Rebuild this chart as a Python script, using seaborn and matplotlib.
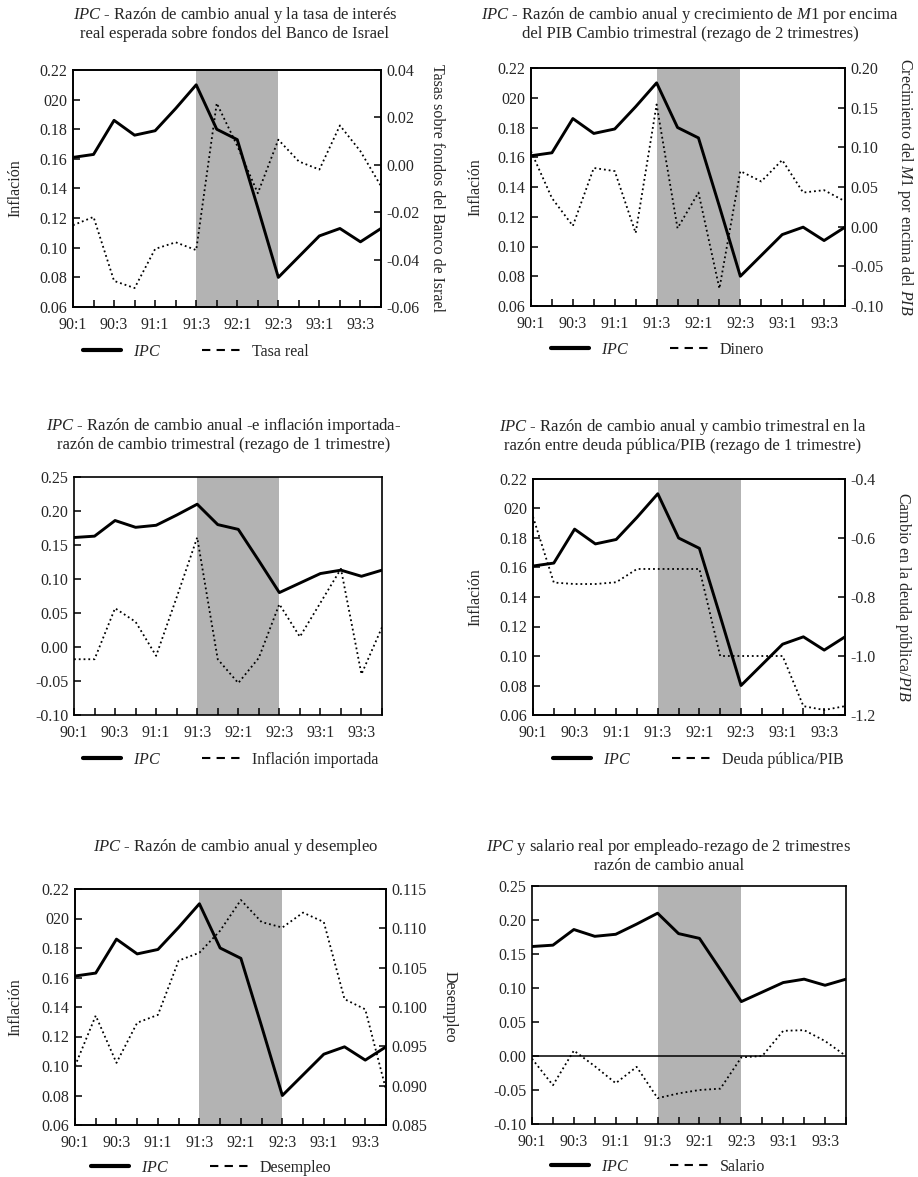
import numpy as np
import pandas as pd
import matplotlib
matplotlib.use("Agg")
import matplotlib.pyplot as plt
import seaborn as sns
from matplotlib.lines import Line2D

# ---------------- data ----------------
quarters = ['90:1', '90:2', '90:3', '90:4', '91:1', '91:2', '91:3', '91:4',
            '92:1', '92:2', '92:3', '92:4', '93:1', '93:2', '93:3', '93:4']
xtick_labels = ['90:1', '90:3', '91:1', '91:3', '92:1', '92:3', '93:1', '93:3']
shade_start, shade_end = '91:3', '92:3'

ipc = [0.161, 0.163, 0.186, 0.176, 0.179, 0.194, 0.210, 0.180,
       0.173, 0.127, 0.080, 0.094, 0.108, 0.113, 0.104, 0.113]
tasa_real = [-0.0255, -0.022, -0.049, -0.052, -0.0355, -0.0327, -0.036, 0.026,
             0.008, -0.012, 0.0106, 0.0014, -0.002, 0.0166, 0.0057, -0.009]
dinero = [0.095, 0.036, 0.001, 0.074, 0.070, -0.008, 0.154, -0.002,
          0.043, -0.078, 0.070, 0.057, 0.084, 0.043, 0.046, 0.032]
infl_importada = [-0.018, -0.018, 0.057, 0.037, -0.013, 0.073, 0.161, -0.018,
                  -0.053, -0.016, 0.063, 0.015, 0.065, 0.115, -0.040, 0.029]
deuda_pib = [-0.528, -0.751, -0.756, -0.756, -0.750, -0.705, -0.705, -0.705,
             -0.705, -1.000, -1.000, -1.000, -1.000, -1.170, -1.183, -1.170]
desempleo = [0.0925, 0.0989, 0.0929, 0.0980, 0.0990, 0.1059, 0.1069, 0.1097,
             0.1136, 0.1108, 0.1101, 0.1120, 0.1108, 0.1010, 0.0997, 0.0895]
salario = [-0.004, -0.043, 0.008, -0.015, -0.040, -0.016, -0.062, -0.055,
           -0.050, -0.048, -0.002, 0.000, 0.037, 0.038, 0.022, 0.000]

infl_ticks = [0.06, 0.08, 0.10, 0.12, 0.14, 0.16, 0.18, 0.20, 0.22]
infl_labels = ['0.06', '0.08', '0.10', '0.12', '0.14', '0.16', '0.18', '020', '0.22']
wide_ticks = [-0.10, -0.05, 0.00, 0.05, 0.10, 0.15, 0.20, 0.25]
wide_labels = ['-0.10', '-0.05', '0.00', '0.05', '0.10', '0.15', '0.20', '0.25']
tasa_ticks = [-0.06, -0.04, -0.02, 0.00, 0.02, 0.04]
tasa_labels = ['-0.06', '-0.04', '-0.02', '0.00', '0.02', '0.04']
dinero_ticks = [-0.10, -0.05, 0.00, 0.05, 0.10, 0.15, 0.20]
dinero_labels = ['-0.10', '-0.05', '0.00', '0.05', '0.10', '0.15', '0.20']
deuda_ticks = [-1.2, -1.0, -0.8, -0.6, -0.4]
deuda_labels = ['-1.2', '-1.0', '-0.8', '-0.6', '-0.4']
desem_ticks = [0.085, 0.090, 0.095, 0.100, 0.105, 0.110, 0.115]
desem_labels = ['0.085', '0.090', '0.095', '0.100', '0.105', '0.110', '0.115']

titles = [
    r"$\mathit{IPC}$ - Razón de cambio anual y la tasa de interés" + "\n" +
    "real esperada sobre fondos del Banco de Israel",
    r"$\mathit{IPC}$ - Razón de cambio anual y crecimiento de $\mathit{M1}$ por encima" + "\n" +
    "del PIB Cambio trimestral (rezago de 2 trimestres)",
    r"$\mathit{IPC}$ - Razón de cambio anual -e inflación importada-" + "\n" +
    "razón de cambio trimestral (rezago de 1 trimestre)",
    r"$\mathit{IPC}$ - Razón de cambio anual y cambio trimestral en la" + "\n" +
    "razón entre deuda pública/PIB (rezago de 1 trimestre)",
    r"$\mathit{IPC}$ - Razón de cambio anual y desempleo",
    r"$\mathit{IPC}$ y salario real por empleado-rezago de 2 trimestres" + "\n" +
    "razón de cambio anual",
]
legend_names = ['Tasa real', 'Dinero', 'Inflación importada',
                'Deuda pública/PIB', 'Desempleo', 'Salario']
right_labels = ['Tasas sobre fondos del Banco de Israel',
                r'Crecimiento del $\mathit{M1}$ por encima del $\mathit{PIB}$',
                None,
                r'Cambio en la deuda pública/$\mathit{PIB}$',
                'Desempleo',
                None]
secondary = [tasa_real, dinero, infl_importada, deuda_pib, desempleo, salario]
sec_ticks = [(tasa_ticks, tasa_labels), (dinero_ticks, dinero_labels), None,
             (deuda_ticks, deuda_labels), (desem_ticks, desem_labels), None]
left_ticks = [(infl_ticks, infl_labels), (infl_ticks, infl_labels),
              (wide_ticks, wide_labels), (infl_ticks, infl_labels),
              (infl_ticks, infl_labels), (wide_ticks, wide_labels)]
left_labels = ['Inflación', 'Inflación', None, 'Inflación', 'Inflación', None]

# ---------------- layout (pixels) ----------------
W, H = 918, 1177
boxes = [(73, 70, 381, 307), (531, 68, 845, 306),
         (74, 477, 382, 715), (533, 479, 845, 715),
         (75, 889, 386, 1125), (532, 886, 846, 1124)]
title_pos = [(235, 5), (690, 5), (224, 416), (683, 417), (236, 837), (669, 837)]
legend_x = [83, 551, 83, 553, 91, 551]
legend_y = [352, 350, 760, 760, 1168, 1167]
left_label_x = [15, 475, None, 475, 15, None]
right_label_x = [437, 905, None, 903, 450, None]

sns.set_theme(style="white")
plt.rcParams['font.family'] = ['Liberation Serif', 'DejaVu Serif']
plt.rcParams['mathtext.fontset'] = 'custom'
plt.rcParams['mathtext.rm'] = 'Liberation Serif'
plt.rcParams['mathtext.it'] = 'Liberation Serif:italic'
plt.rcParams['mathtext.bf'] = 'Liberation Serif:bold'
plt.rcParams['axes.unicode_minus'] = False

fig = plt.figure(figsize=(W / 100, H / 100), dpi=100)
fig.patch.set_facecolor('white')

t = np.arange(len(quarters))
i0, i1 = quarters.index(shade_start), quarters.index(shade_end)
TICK_FS = 11.5

for k in range(6):
    l, tp, r, b = boxes[k]
    ax = fig.add_axes([l / W, 1 - b / H, (r - l) / W, (b - tp) / H])
    ax.set_facecolor('white')
    df = pd.DataFrame({'t': t, 'ipc': ipc, 'sec': secondary[k]})

    ax.axvspan(i0, i1, color='#b3b3b3', lw=0, zorder=0)
    lt, ll = left_ticks[k]
    sns.lineplot(data=df, x='t', y='ipc', ax=ax, color='black', lw=2.1, zorder=5)
    ax.set_ylim(lt[0], lt[-1])
    ax.set_yticks(lt)
    ax.set_yticklabels(ll, fontsize=TICK_FS)
    ax.set_xlim(0, len(quarters) - 1)
    ax.set_xticks(t[::2])
    ax.set_xticklabels(xtick_labels, fontsize=TICK_FS)
    ax.set_xticks(t[1::2], minor=True)
    ax.tick_params(axis='both', which='both', direction='in', length=5, width=1.1,
                   color='black', pad=4)
    ax.tick_params(axis='x', which='both', top=False, bottom=True, pad=7)
    ax.tick_params(axis='y', left=True, right=False)
    ax.set_xlabel('')
    ax.set_ylabel('')
    for s in ax.spines.values():
        s.set_color('black')
        s.set_linewidth(1.2)
        s.set_visible(True)

    if sec_ticks[k] is None:
        sns.lineplot(data=df, x='t', y='sec', ax=ax, color='black', lw=1.3,
                     linestyle=':', zorder=4)
        ax.set_ylim(lt[0], lt[-1])
        ax.set_ylabel('')
        ax.set_xlabel('')
        if k == 5:
            ax.axhline(0, color='black', lw=1.1, zorder=3)
    else:
        ax2 = ax.twinx()
        st, sl = sec_ticks[k]
        sns.lineplot(data=df, x='t', y='sec', ax=ax2, color='black', lw=1.3,
                     linestyle=':', zorder=4)
        ax2.set_ylim(st[0], st[-1])
        ax2.set_yticks(st)
        ax2.set_yticklabels(sl, fontsize=TICK_FS)
        ax2.tick_params(axis='y', direction='in', length=5, width=1.1, color='black', pad=4)
        ax2.set_ylabel('')
        ax2.set_xlabel('')
        for s in ax2.spines.values():
            s.set_color('black')
            s.set_linewidth(1.2)
        ax2.set_xlim(0, len(quarters) - 1)
        fig.text(right_label_x[k] / W, 1 - (tp + b) / 2 / H, right_labels[k],
                 rotation=270, ha='center', va='center', fontsize=11.5)

    if left_labels[k]:
        fig.text(left_label_x[k] / W, 1 - (tp + b) / 2 / H, left_labels[k],
                 rotation=90, ha='center', va='center', fontsize=11.5)

    tx, ty = title_pos[k]
    fig.text(tx / W, 1 - ty / H, titles[k], ha='center', va='top',
             fontsize=12, linespacing=1.1)

    handles = [Line2D([], [], color='black', lw=3.0),
               Line2D([], [], color='black', lw=1.5, linestyle=(0, (4, 3)))]
    leg = ax.legend(handles=handles, labels=[r'$\mathit{IPC}$', legend_names[k]],
                    loc='center left',
                    bbox_to_anchor=((legend_x[k] - l) / (r - l), -(legend_y[k] - b) / (b - tp)),
                    ncol=2, frameon=False, fontsize=11.5, handlelength=2.4,
                    handletextpad=0.7, columnspacing=2.6, borderpad=0, borderaxespad=0)

fig.savefig('out.png', dpi=100, facecolor='white')
